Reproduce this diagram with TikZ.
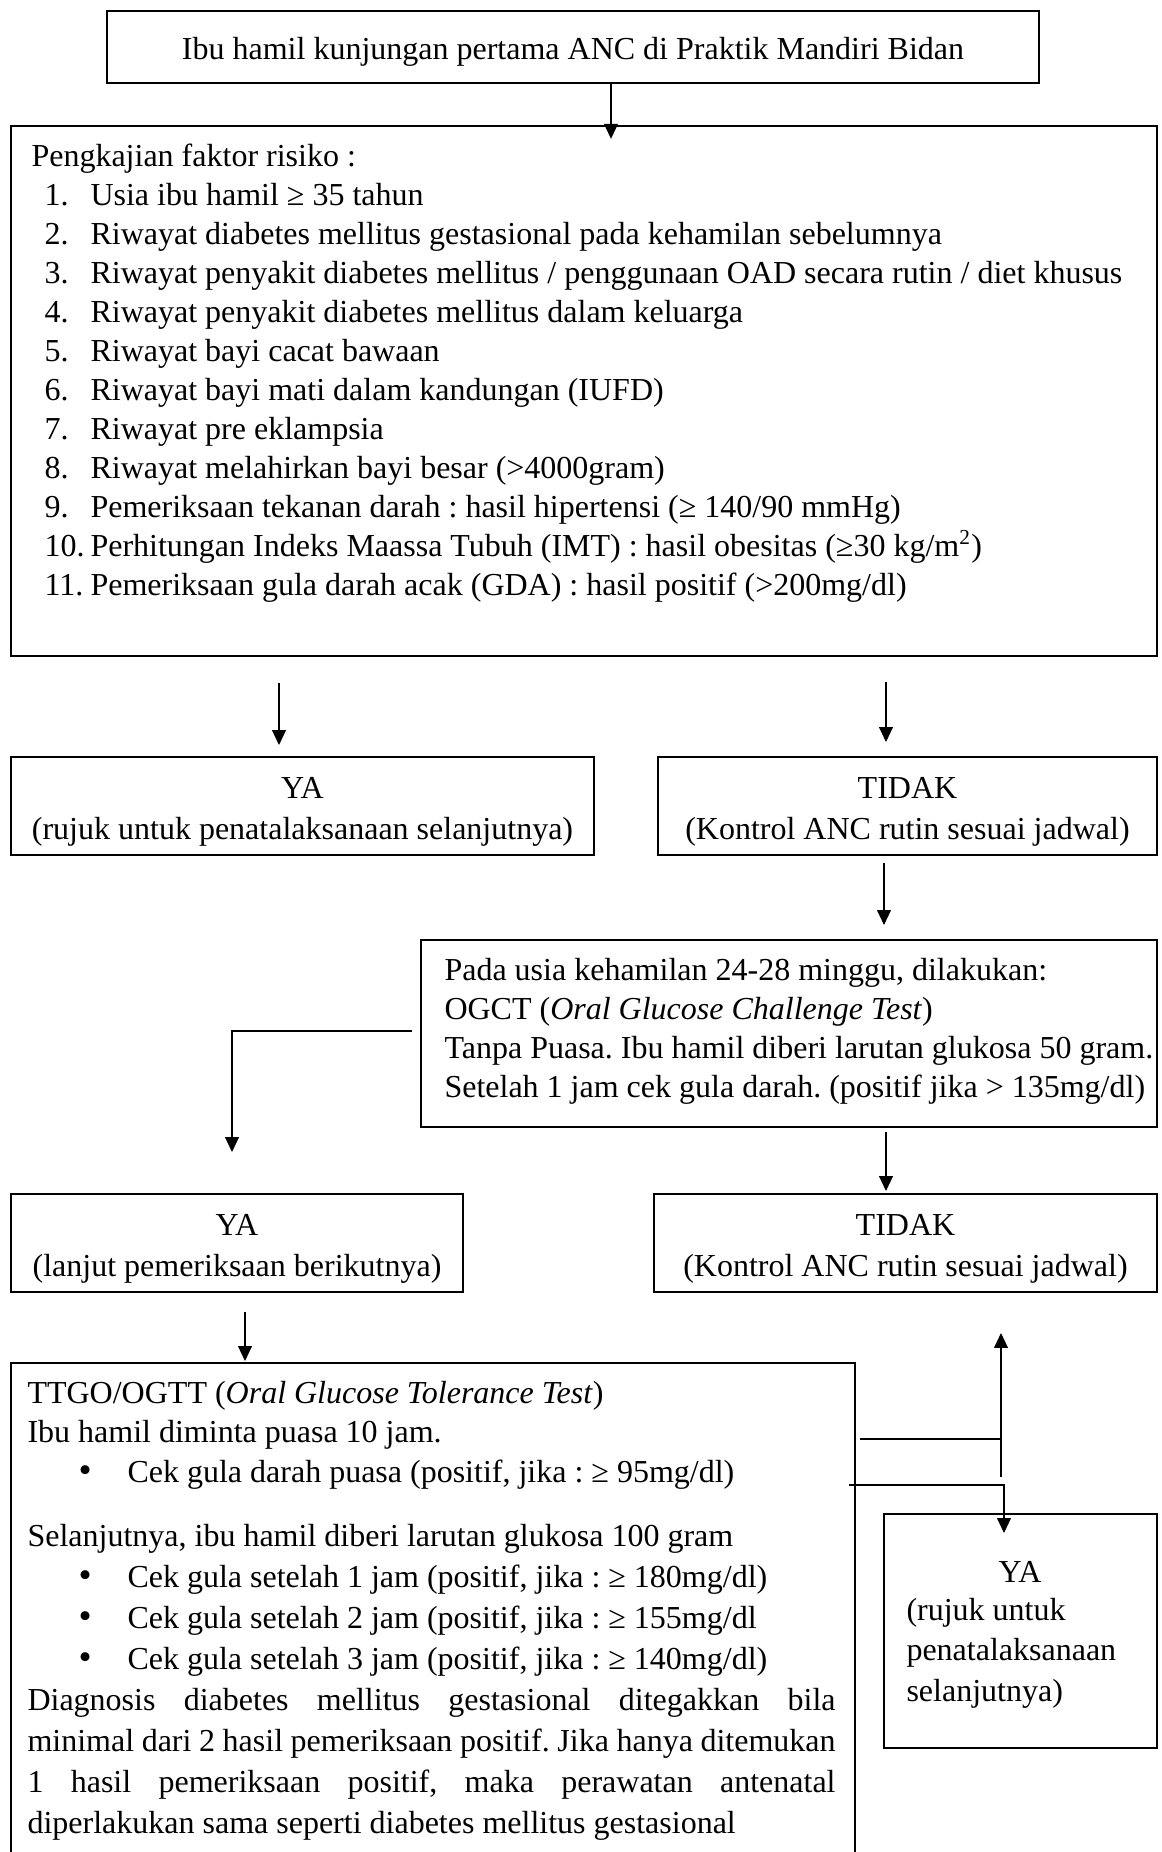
\documentclass[tikz,border=0pt]{standalone}
\usepackage{fontspec}
\setmainfont{Liberation Serif}
\usetikzlibrary{arrows.meta,fit}

\newcommand{\px}{0.375pt}
\newcommand{\diagw}{303pt}

\tikzset{
  box/.style={draw, line width=0.9pt, inner sep=0pt},
  choice/.style={align=center, yshift=-5.5*\px},
  conn/.style={line width=0.45pt},
  arr/.style={conn, -{Triangle[width=5.2pt,length=5.6pt]}},
  txt/.style={anchor=base west, inner sep=0pt},
}

\begin{document}
\frenchspacing
\begin{tikzpicture}[x=\px, y=-\px, every node/.style={font=\fontsize{12}{14.6}\selectfont}]
\useasboundingbox (0,0) rectangle (1162,1852);

% first visit
\node[box, minimum width=932*\px, minimum height=72*\px] (visit) at (573,47) {};
\node[yshift=-5*\px] (visit-text) at (visit) {Ibu hamil kunjungan pertama ANC di Praktik Mandiri Bidan};

% risk factor screening
\node[box, fit={(11,126) (1157,656)}] (risk) {};
\node[txt] (risk-title) at (31,166) {Pengkajian faktor risiko :};
\foreach \n/\t in {1/{Usia ibu hamil ≥ 35 tahun},
                   2/{Riwayat diabetes mellitus gestasional pada kehamilan sebelumnya},
                   3/{Riwayat penyakit diabetes mellitus / penggunaan OAD secara rutin / diet khusus},
                   4/{Riwayat penyakit diabetes mellitus dalam keluarga},
                   5/{Riwayat bayi cacat bawaan},
                   6/{Riwayat bayi mati dalam kandungan (IUFD)},
                   7/{Riwayat pre eklampsia},
                   8/{Riwayat melahirkan bayi besar (>4000gram)},
                   9/{Pemeriksaan tekanan darah : hasil hipertensi (≥ 140/90 mmHg)},
                   10/{Perhitungan Indeks Maassa Tubuh (IMT) : hasil obesitas (≥30 kg/m\textsuperscript{2})},
                   11/{Pemeriksaan gula darah acak (GDA) : hasil positif (>200mg/dl)}} {
    \node[txt] (risk-num-\n) at (44,166+39*\n) {\n.};
    \node[txt] (risk-\n) at (90,166+39*\n) {\t};
}

% first decision
\node[box, minimum width=583*\px, minimum height=98*\px] (refer1) at (302.5,806) {};
\node[choice] (refer1-text) at (refer1) {YA\\[0.8pt](rujuk untuk penatalaksanaan selanjutnya)};
\node[box, minimum width=499*\px, minimum height=98*\px] (routine1) at (907.5,806) {};
\node[choice] (routine1-text) at (routine1) {TIDAK\\[0.8pt](Kontrol ANC rutin sesuai jadwal)};

% OGCT
\node[box, fit={(421,940) (1157,1127)}] (ogct) {};
\foreach \t [count=\k from 0] in {{Pada usia kehamilan 24-28 minggu, dilakukan:},
                                  {OGCT (\textit{Oral Glucose Challenge Test})},
                                  {Tanpa Puasa. Ibu hamil diberi larutan glukosa 50 gram.},
                                  {Setelah 1 jam cek gula darah. (positif jika > 135mg/dl)}} {
    \node[txt] (ogct-\k) at (444,980+39.3*\k) {\t};
}

% second decision
\node[box, minimum width=452*\px, minimum height=98*\px] (next) at (237,1243) {};
\node[choice] (next-text) at (next) {YA\\[0.8pt](lanjut pemeriksaan berikutnya)};
\node[box, minimum width=503*\px, minimum height=98*\px] (routine2) at (905.5,1243) {};
\node[choice] (routine2-text) at (routine2) {TIDAK\\[0.8pt](Kontrol ANC rutin sesuai jadwal)};

% OGTT
\node[box, fit={(11,1363) (855,1880)}] (ogtt) {};
\node[txt] (ogtt-title) at (27,1403) {TTGO/OGTT (\textit{Oral Glucose Tolerance Test})};
\node[txt] (ogtt-fast) at (27,1442) {Ibu hamil diminta puasa 10 jam.};
\node[txt, font=\fontsize{14}{14}\selectfont] (dot-0) at (78,1482) {•};
\node[txt] (check-0) at (127,1482) {Cek gula darah puasa (positif, jika : ≥ 95mg/dl)};
\node[txt] (ogtt-load) at (27,1546) {Selanjutnya, ibu hamil diberi larutan glukosa 100 gram};
\foreach \h/\v [count=\k] in {1/{180mg/dl)}, 2/{155mg/dl}, 3/{140mg/dl)}} {
    \node[txt, font=\fontsize{14}{14}\selectfont] (dot-\k) at (78,1546+41*\k) {•};
    \node[txt] (check-\k) at (127,1546+41*\k) {Cek gula setelah \h\ jam (positif, jika : ≥ \v};
}
\node[txt] (diag-1) at (27,1710) {\makebox[\diagw][s]{Diagnosis diabetes mellitus gestasional ditegakkan bila}};
\node[txt] (diag-2) at (27,1751) {\makebox[\diagw][s]{minimal dari 2 hasil pemeriksaan positif. Jika hanya ditemukan}};
\node[txt] (diag-3) at (27,1792) {\makebox[\diagw][s]{1 hasil pemeriksaan positif, maka perawatan antenatal}};
\node[txt] (diag-4) at (27,1833) {diperlakukan sama seperti diabetes mellitus gestasional};

% refer after OGTT
\node[box, fit={(884,1514) (1157,1748)}] (refer2) {};
\node[anchor=base, inner sep=0pt] (refer2-head) at (1020,1582) {YA};
\node[txt] (refer2-1) at (906,1620) {(rujuk untuk};
\node[txt] (refer2-2) at (906,1660) {penatalaksanaan};
\node[txt] (refer2-3) at (906,1701) {selanjutnya)};

% arrows
\coordinate (top-x) at (611,0);
\draw[arr] (visit.south -| top-x) -- ([yshift=-14*\px]risk.north -| top-x);
\foreach \nm/\x/\ya/\yb in {yes/279/683/745, no/886/682/742, test/884/863/925, neg/886/1132/1191, tol/245/1312/1361} {
    \coordinate (\nm-s) at (\x,\ya);
    \coordinate (\nm-e) at (\x,\yb);
    \draw[arr] (\nm-s) -- (\nm-e);
}
\coordinate (pos-s) at (412,1031);
\coordinate (pos-e) at (232,1152);
\draw[arr] (pos-s) -| (pos-e);
% back to routine / refer
\coordinate (back-s) at (1001,1477);
\coordinate (back-e) at (1001,1333);
\draw[arr] (back-s) -- (back-e);
\coordinate (back-h) at (860,1439);
\draw[conn] (back-h) -- (back-h -| back-s);
\coordinate (ref-s) at (849,1485);
\coordinate (ref-e) at (1004,1533);
\draw[arr] (ref-s) -| (ref-e);
\end{tikzpicture}
\end{document}
